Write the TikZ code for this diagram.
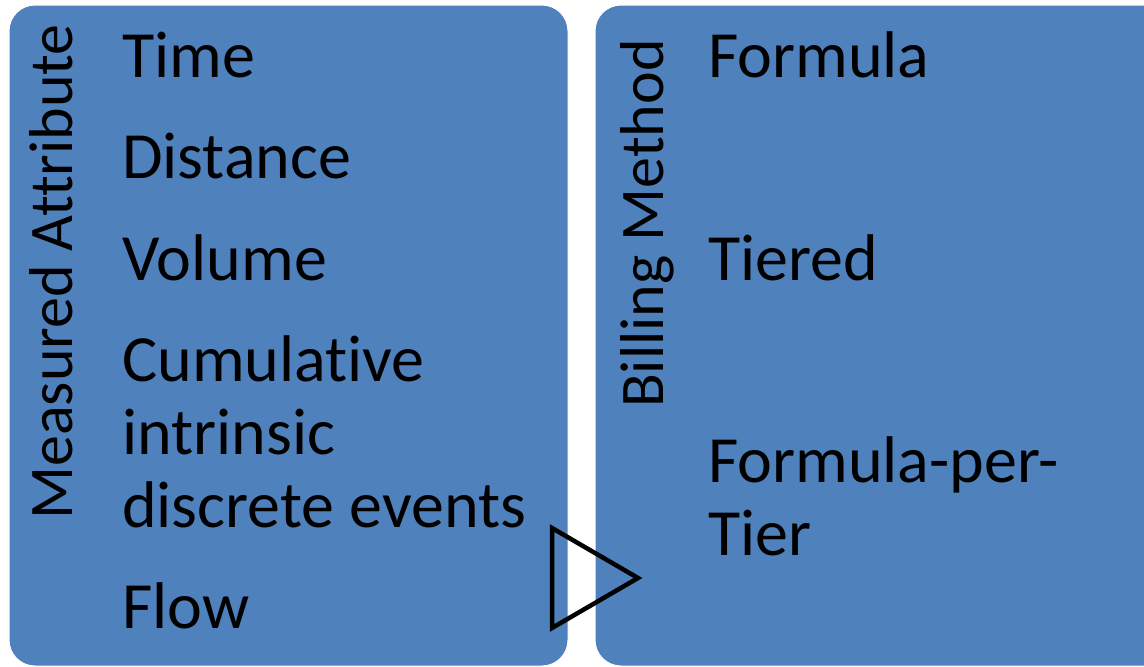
\documentclass[tikz,border=0pt]{standalone}
\usepackage{fontspec}
\setmainfont{Carlito}[Ligatures={NoCommon}]
\definecolor{boxblue}{HTML}{4F81BD}
\begin{document}
\begin{tikzpicture}[x=1pt,y=-1pt,
  boxstyle/.style={fill=boxblue,draw=white,line width=1pt,rounded corners=26pt},
  itemtext/.style={inner sep=0pt,anchor=base west,align=left,font=\fontsize{66}{73}\selectfont},
  vlabel/.style={inner sep=0pt,anchor=base west,rotate=90,font=\fontsize{62}{70}\selectfont},
  tri/.style={draw=black,line width=4.5pt,fill=none}]
\useasboundingbox (0,0) rectangle (1144,667);
\begin{scope}
\clip (0,0) rectangle (1144,667);
\path[boxstyle] (9,5) rectangle (568,666);
\path[boxstyle] (595,5) rectangle (1180,666);
\end{scope}
\node[vlabel] (ma) at (72,520) {Measured Attribute};
\node[vlabel] (bm) at (663,408) {Billing Method};
\node[itemtext] (time) at (122,77) {Time};
\node[itemtext] (dist) at (122,178) {Distance};
\node[itemtext] (vol) at (122,280) {Volume};
\node[itemtext] (cum) at (122,527) {Cumulative\\intrinsic\\discrete events};
\node[itemtext] (flow) at (122,628) {Flow};
\node[itemtext] (form) at (708,77) {Formula};
\node[itemtext] (tier) at (708,280) {Tiered};
\node[itemtext] (fpt) at (708,555) {Formula-per-\\Tier};
\coordinate (t1) at (552,528);
\coordinate (t2) at (638,578);
\coordinate (t3) at (552,628);
\draw[tri] (t1) -- (t2) -- (t3) -- cycle;
\end{tikzpicture}
\end{document}
